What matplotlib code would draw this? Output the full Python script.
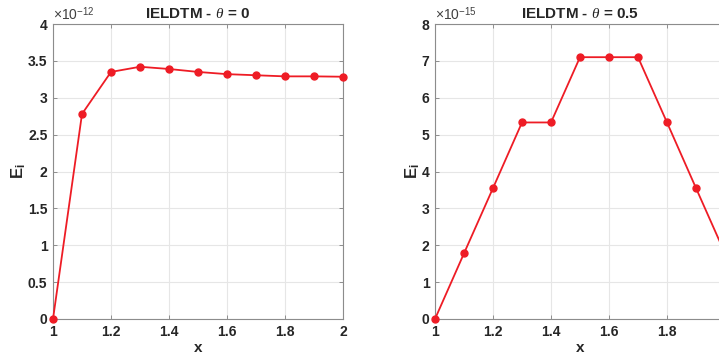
import numpy as np
import matplotlib
matplotlib.use("Agg")
import matplotlib.pyplot as plt
from matplotlib.ticker import FuncFormatter

x = np.array([1.0, 1.1, 1.2, 1.3, 1.4, 1.5, 1.6, 1.7, 1.8, 1.9, 2.0])
# errors, theta = 0
E0 = np.array([0, 2.78, 3.35, 3.42, 3.39, 3.35, 3.32, 3.305, 3.29, 3.29, 3.285]) * 1e-12
# errors, theta = 0.5
E5 = np.array([0, 1.78, 3.55, 5.33, 5.33, 7.1, 7.1, 7.1, 5.33, 3.55, 1.78]) * 1e-15

titles = [r"IELDTM - $\theta$ = 0", r"IELDTM - $\theta$ = 0.5"]
scales = [1e-12, 1e-15]
ylims = [4, 8]
yticks = [np.arange(0, 4.01, 0.5), np.arange(0, 8.01, 1)]
xticks = [np.arange(1, 2.01, 0.2), np.arange(1, 1.81, 0.2)]
exps = ["-12", "-15"]

plt.rcParams['font.family'] = ['Liberation Sans', 'DejaVu Sans']
plt.rcParams['mathtext.fontset'] = 'custom'
plt.rcParams['mathtext.rm'] = 'Liberation Sans'
plt.rcParams['mathtext.it'] = 'Liberation Serif:italic'
plt.rcParams['mathtext.bf'] = 'Liberation Sans:bold'

red = "#ee1c25"
dark = "#262626"

fig = plt.figure(figsize=(7.19, 3.56), dpi=100)
ax1 = fig.add_axes([53/719, 37/356, 290/719, 295/356])
ax2 = fig.add_axes([435/719, 37/356, 290/719, 295/356])

def fmt(v):
    s = ("%.2f" % v).rstrip("0").rstrip(".")
    return s

for ax, E, t, sc, yl, yt, xt, ex in zip([ax1, ax2], [E0, E5], titles, scales, ylims, yticks, xticks, exps):
    ax.plot(x, E, color=red, lw=1.3, marker="o", ms=5, zorder=3, clip_on=False)
    ax.set_xlim(1, 2)
    ax.set_ylim(0, yl * sc)
    ax.set_xticks(xt)
    ax.set_yticks(yt * sc)
    ax.xaxis.set_major_formatter(FuncFormatter(lambda v, p: fmt(v)))
    ax.yaxis.set_major_formatter(FuncFormatter(lambda v, p, sc=sc: fmt(v / sc)))
    ax.grid(True, color="#e6e6e6", lw=0.8)
    ax.set_axisbelow(True)
    ax.tick_params(direction="in", length=3, width=0.6, colors="#808080",
                   labelcolor=dark, labelsize=10, top=True, right=True, pad=4)
    for lab in ax.get_xticklabels() + ax.get_yticklabels():
        lab.set_fontweight("bold")
    for s in ax.spines.values():
        s.set_color("#8c8c8c")
        s.set_linewidth(0.8)
    ax.set_title(t, fontsize=11, fontweight="bold", color=dark, pad=4)
    ax.set_xlabel("x", fontsize=11, fontweight="bold", color=dark, labelpad=2)
    ax.set_ylabel(r"E$_\mathbf{i}$", fontsize=12, fontweight="bold", color=dark, labelpad=0)
    ax.text(0.0, 1.005, r"$\times$10$^{%s}$" % ex, transform=ax.transAxes,
            fontsize=10, color="#404040", ha="left", va="bottom")

fig.savefig("out.png", dpi=100)
